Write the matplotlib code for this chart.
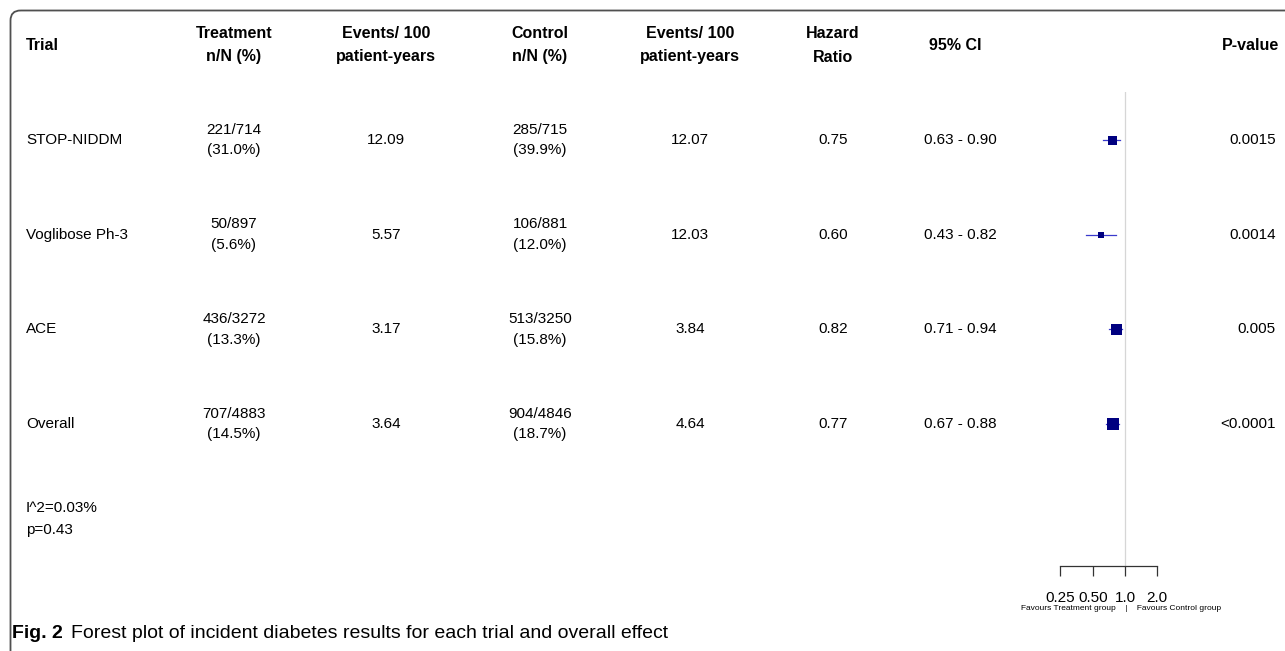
import numpy as np
import matplotlib
matplotlib.use("Agg")
import matplotlib.pyplot as plt
from matplotlib.patches import FancyBboxPatch
from matplotlib.ticker import FixedLocator, NullLocator, FixedFormatter

# ---------------- data ----------------
trials = ["STOP-NIDDM", "Voglibose Ph-3", "ACE", "Overall"]
treat_nN = ["221/714", "50/897", "436/3272", "707/4883"]
treat_pct = ["(31.0%)", "(5.6%)", "(13.3%)", "(14.5%)"]
treat_rate = ["12.09", "5.57", "3.17", "3.64"]
ctrl_nN = ["285/715", "106/881", "513/3250", "904/4846"]
ctrl_pct = ["(39.9%)", "(12.0%)", "(15.8%)", "(18.7%)"]
ctrl_rate = ["12.07", "12.03", "3.84", "4.64"]
hr = [0.75, 0.60, 0.82, 0.77]
ci_low = [0.63, 0.43, 0.71, 0.67]
ci_high = [0.90, 0.82, 0.94, 0.88]
pvals = ["0.0015", "0.0014", "0.005", "<0.0001"]
box_sizes = [9, 6, 11, 12]  # marker size in px (weights)
headers = ["Trial", "Treatment\nn/N (%)", "Events/ 100\npatient-years",
           "Control\nn/N (%)", "Events/ 100\npatient-years",
           "Hazard\nRatio", "95% CI", "P-value"]
tick_vals = [0.25, 0.5, 1.0, 2.0]
tick_labels = ["0.25", "0.50", "1.0", "2.0"]
het_text = ["I^2=0.03%", "p=0.43"]

W, H = 1285, 651
DPI = 100
FONT = ["Liberation Sans", "DejaVu Sans"]
plt.rcParams["font.family"] = FONT

fig = plt.figure(figsize=(W / DPI, H / DPI), dpi=DPI)

# background axes in pixel coordinates (y down)
bg = fig.add_axes([0, 0, 1, 1])
bg.set_xlim(0, W)
bg.set_ylim(H, 0)
bg.axis("off")

# rounded border (extends past right/bottom edge)
border = FancyBboxPatch((10.5, 10.5), W + 40, H + 40,
                        boxstyle="round,pad=0,rounding_size=10",
                        fill=False, edgecolor="#505050", lw=1.3,
                        transform=bg.transData, clip_on=False)
bg.add_patch(border)

fs = 11
hfs = 11.5
row_y0 = 140
row_dy = 94.67

def row_pix(i):
    return row_y0 + row_dy * i

# headers
hy = 45
bg.text(26, hy, headers[0], ha="left", va="center", fontsize=hfs, fontweight="bold")
col_x = [234, 386, 540, 690, 833, 955]
for x, h in zip(col_x, headers[1:7]):
    bg.text(x, hy, h, ha="center", va="center", fontsize=hfs, fontweight="bold",
            linespacing=1.75)
bg.text(1279, hy, headers[7], ha="right", va="center", fontsize=hfs, fontweight="bold")

# rows
for i, t in enumerate(trials):
    y = row_pix(i)
    bg.text(26, y, t, ha="left", va="center", fontsize=fs)
    bg.text(234, y, treat_nN[i] + "\n" + treat_pct[i], ha="center", va="center",
            fontsize=fs, linespacing=1.6)
    bg.text(386, y, treat_rate[i], ha="center", va="center", fontsize=fs)
    bg.text(540, y, ctrl_nN[i] + "\n" + ctrl_pct[i], ha="center", va="center",
            fontsize=fs, linespacing=1.6)
    bg.text(690, y, ctrl_rate[i], ha="center", va="center", fontsize=fs)
    bg.text(833, y, f"{hr[i]:.2f}", ha="center", va="center", fontsize=fs)
    bg.text(960, y, f"{ci_low[i]:.2f} - {ci_high[i]:.2f}", ha="center", va="center",
            fontsize=fs)
    bg.text(1276, y, pvals[i], ha="right", va="center", fontsize=fs)

bg.text(26, 508, het_text[0], ha="left", va="center", fontsize=fs)
bg.text(26, 530, het_text[1], ha="left", va="center", fontsize=fs)

# forest axes
ax_left_px, ax_right_px = 1040, 1200
ax_top_px, ax_bot_px = 92, 566
px_per_dbl = 32.3
ref_px = 1125
xmin = 2 ** ((ax_left_px - ref_px) / px_per_dbl)
xmax = 2 ** ((ax_right_px - ref_px) / px_per_dbl)
ax = fig.add_axes([ax_left_px / W, 1 - ax_bot_px / H,
                   (ax_right_px - ax_left_px) / W, (ax_bot_px - ax_top_px) / H])
ax.set_xscale("log")
ax.set_xlim(xmin, xmax)
ymin = (ax_top_px - row_y0) / row_dy
ymax = (ax_bot_px - row_y0) / row_dy
ax.set_ylim(ymax, ymin)
ax.patch.set_alpha(0)
for s in ["top", "right", "left"]:
    ax.spines[s].set_visible(False)
ax.spines["bottom"].set_bounds(tick_vals[0], tick_vals[-1])
ax.spines["bottom"].set_color("#333333")
ax.spines["bottom"].set_linewidth(0.9)
ax.yaxis.set_major_locator(NullLocator())
ax.xaxis.set_major_locator(FixedLocator(tick_vals))
ax.xaxis.set_major_formatter(FixedFormatter(tick_labels))
ax.xaxis.set_minor_locator(NullLocator())
ax.tick_params(axis="x", direction="out", length=7, width=0.9, color="#333333",
               pad=11, labelsize=11)
ax.axvline(1.0, color="#d6d6d6", lw=0.9, zorder=0)

ypos = np.arange(len(trials))
for i in range(len(trials)):
    ax.plot([ci_low[i], ci_high[i]], [ypos[i], ypos[i]], color="#3a3acc", lw=0.9,
            zorder=2)
    ax.plot([hr[i]], [ypos[i]], marker="s", color="#000080",
            markersize=box_sizes[i] * 72 / DPI, markeredgewidth=0, zorder=3)

bg.text(1121, 609, "Favours Treatment group    |    Favours Control group",
        ha="center", va="center", fontsize=6.0)

# caption
cap_y = 634
t1 = bg.text(12, cap_y, "Fig. 2", ha="left", va="center", fontsize=14,
             fontweight="bold")
fig.canvas.draw()
bb = t1.get_window_extent(fig.canvas.get_renderer())
x_end = bb.x1
bg.text(x_end + 8, cap_y, "Forest plot of incident diabetes results for each trial and overall effect",
        ha="left", va="center", fontsize=14)

fig.savefig("out.png", dpi=DPI)
